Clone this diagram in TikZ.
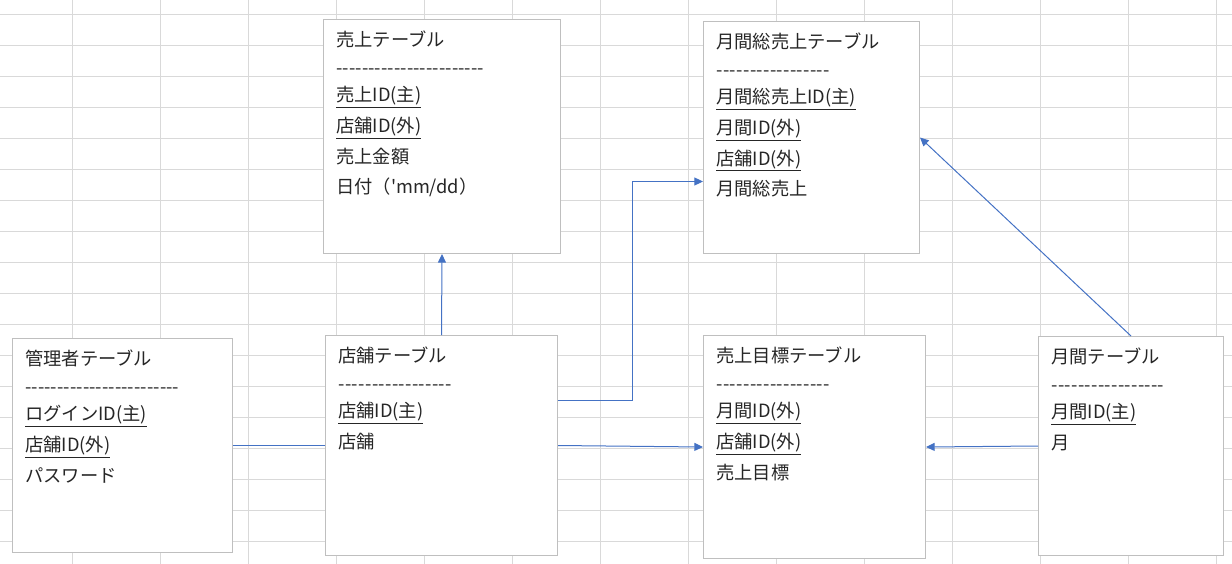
\documentclass[tikz,border=0pt]{standalone}
\usepackage{fontspec}
\setmainfont{Noto Sans CJK JP}[Ligatures=TeXOff]
\usetikzlibrary{arrows.meta}

\definecolor{xlgrid}{HTML}{D9D9D9}
\definecolor{xlbox}{HTML}{BFBFBF}
\definecolor{xlblue}{HTML}{4472C4}

% a row of hyphens of a given width
\newcommand{\dashrow}[1]{\hbox to #1{\xleaders\hbox{-}\hfill}}
\newcommand{\ul}[1]{\underline{#1}}

\tikzset{
  gridline/.style={draw=xlgrid, line width=0.75pt},
  tbl/.style={draw=xlbox, fill=white, line width=0.75pt, anchor=north west, inner sep=0pt},
  tbltxt/.style={anchor=north west, inner sep=0pt, align=left, text=black!85,
    font=\fontsize{13.7pt}{23pt}\selectfont},
  conn/.style={draw=xlblue, line width=0.75pt, -{Triangle[length=6.5pt,width=6pt]}}
}

\begin{document}
\begin{tikzpicture}[x=0.75pt,y=-0.75pt]
  \useasboundingbox (0,0) rectangle (1232,564);

  % sheet grid
  \foreach \x in {72,160,...,1216}
    \draw[gridline] (\x,0) -- (\x,564);
  \foreach \y in {14.3,45.3,...,560}
    \draw[gridline] (0,\y) -- (1232,\y);

  % tables
  \node[tbl, minimum width=177.75pt, minimum height=175.5pt] (uriage) at (323,19) {};
  \node[tbl, minimum width=162pt, minimum height=174pt] (gessou) at (703,21) {};
  \node[tbl, minimum width=165pt, minimum height=160.5pt] (kanri) at (12,338) {};
  \node[tbl, minimum width=174pt, minimum height=165pt] (tenpo) at (325,335) {};
  \node[tbl, minimum width=166.5pt, minimum height=167.25pt] (mokuhyo) at (703,335) {};
  \node[tbl, minimum width=138.75pt, minimum height=164.25pt] (getsu) at (1038,336) {};

  \node[tbltxt] (uriage-txt) at ([shift={(13,12)}]uriage.north west)
    {売上テーブル\\[-2.4pt] \dashrow{111pt}\\[-2.4pt] \ul{売上ID(主)}\\ \ul{店舗ID(外)}\\ 売上金額\\ 日付（'mm/dd）};
  \node[tbltxt] (gessou-txt) at ([shift={(13,12)}]gessou.north west)
    {月間総売上テーブル\\[-2.4pt] \dashrow{85.5pt}\\[-2.4pt] \ul{月間総売上ID(主)}\\ \ul{月間ID(外)}\\ \ul{店舗ID(外)}\\ 月間総売上};
  \node[tbltxt] (kanri-txt) at ([shift={(13,12)}]kanri.north west)
    {管理者テーブル\\[-2.4pt] \dashrow{115.5pt}\\[-2.4pt] \ul{ログインID(主)}\\ \ul{店舗ID(外)}\\ パスワード};
  \node[tbltxt] (tenpo-txt) at ([shift={(13,12)}]tenpo.north west)
    {店舗テーブル\\[-2.4pt] \dashrow{85.5pt}\\[-2.4pt] \ul{店舗ID(主)}\\ 店舗};
  \node[tbltxt] (mokuhyo-txt) at ([shift={(13,12)}]mokuhyo.north west)
    {売上目標テーブル\\[-2.4pt] \dashrow{85.5pt}\\[-2.4pt] \ul{月間ID(外)}\\ \ul{店舗ID(外)}\\ 売上目標};
  \node[tbltxt] (getsu-txt) at ([shift={(13,12)}]getsu.north west)
    {月間テーブル\\[-2.4pt] \dashrow{85pt}\\[-2.4pt] \ul{月間ID(主)}\\ 月};

  % relations
  \draw[conn] (tenpo.north) -- (uriage.south);
  \draw[conn] ([yshift=33.75pt]tenpo.east) -- ++(74,0) |- ([yshift=-33pt]gessou.west);
  \draw[conn] (tenpo.east) -- (mokuhyo.west);
  \draw[conn] (getsu.west) -- (mokuhyo.east);
  \draw[conn] (getsu.north) -- (gessou.east);
  \draw[draw=xlblue, line width=0.75pt] (kanri.east) -- (tenpo.west);
\end{tikzpicture}
\end{document}
